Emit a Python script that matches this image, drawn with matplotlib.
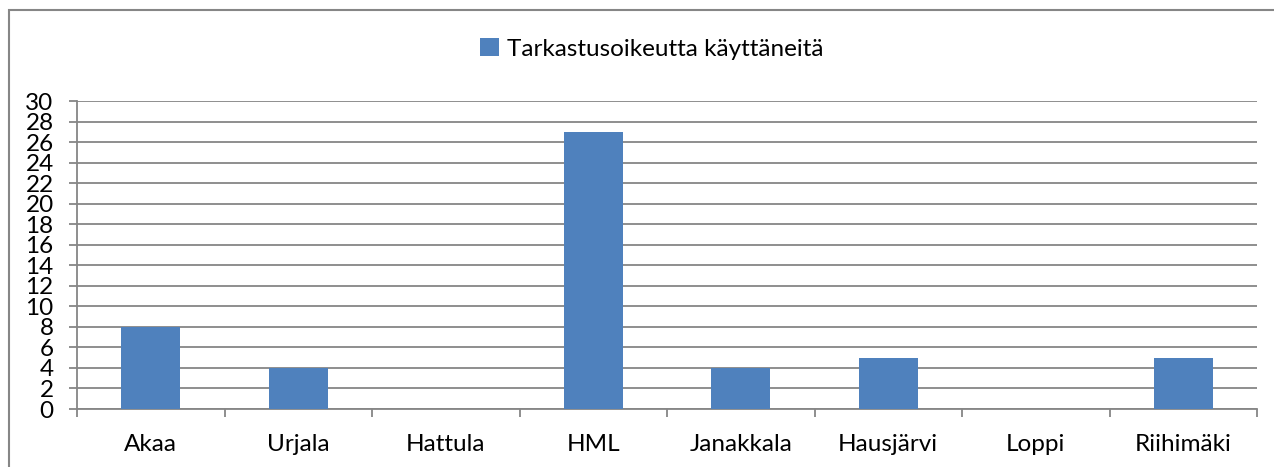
import matplotlib
matplotlib.use("Agg")
import matplotlib.pyplot as plt
from matplotlib.patches import Rectangle

categories = ["Akaa", "Urjala", "Hattula", "HML", "Janakkala", "Hausjärvi", "Loppi", "Riihimäki"]
values = [8, 4, 0, 27, 4, 5, 0, 5]
series_name = "Tarkastusoikeutta käyttäneitä"
yticks = list(range(0, 31, 2))

W, H = 1274, 467
plt.rcParams['font.family'] = ['Lato', 'DejaVu Sans']
fig = plt.figure(figsize=(W / 100, H / 100), dpi=100)

# outer chart border
fig.patches.append(Rectangle((9 / W, -0.1), 1.2, 1 - 10 / H + 0.1, transform=fig.transFigure,
                             fill=False, edgecolor="#868686", linewidth=1.5))

left, right, top, bottom = 77, 1257, 101, 409
ax = fig.add_axes([left / W, 1 - bottom / H, (right - left) / W, (bottom - top) / H])

fs = 17.5
color = "#4F81BD"
grid = "#868686"
x = list(range(len(categories)))
ax.bar(x, values, width=0.4, color=color, zorder=3, label=series_name)
ax.set_xlim(-0.5, len(categories) - 0.5)
ax.set_ylim(0, 30)
ax.set_yticks(yticks)
ax.set_yticklabels([str(t) for t in yticks], fontsize=fs)
ax.set_xticks(x)
ax.set_xticklabels(categories, fontsize=fs)
ax.yaxis.grid(True, color=grid, linewidth=1.3, zorder=0)
for s in ["top", "right"]:
    ax.spines[s].set_visible(False)
for s in ["left", "bottom"]:
    ax.spines[s].set_color(grid)
    ax.spines[s].set_linewidth(1.3)
ax.tick_params(axis="y", length=5.8, color=grid, width=1.3, pad=11)
ax.tick_params(axis="x", length=0, pad=18)
# category separators (ticks between categories)
ax.set_xticks([i - 0.5 for i in range(len(categories) + 1)], minor=True)
ax.tick_params(axis="x", which="minor", length=5.8, color=grid, width=1.3)

fig.legend(handles=ax.get_legend_handles_labels()[0], labels=[series_name],
           loc="center", bbox_to_anchor=(652 / W, 1 - 49 / H), frameon=False,
           fontsize=fs, handlelength=0.75, handleheight=0.75, handletextpad=0.35)

fig.savefig("out.png", dpi=100)
